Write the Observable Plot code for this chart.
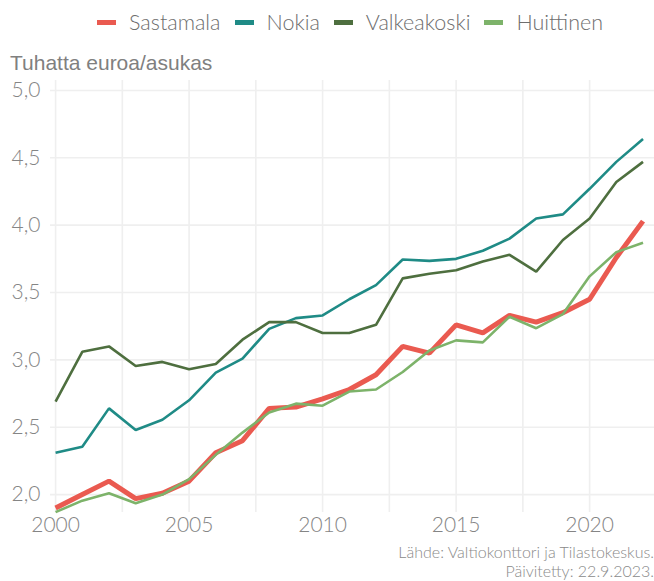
<!DOCTYPE html>
<html>
<head>
<meta charset="utf-8">
<script src="https://cdn.jsdelivr.net/npm/d3@7"></script>
<script src="https://cdn.jsdelivr.net/npm/@observablehq/plot@0.6"></script>
<style>
  html, body { margin: 0; padding: 0; background: #fff; }
  body { width: 654px; height: 581px; position: relative; overflow: hidden; font-family: Lato, "Open Sans", sans-serif; }
  #chart { position: absolute; left: 0; top: 0; }
  #legend { position: absolute; left: 97px; top: 9px; display: flex; align-items: center; font-family: Lato, sans-serif; font-weight: 300; font-size: 21.5px; color: #6e6e6e; white-space: nowrap; }
  .item { display: flex; align-items: center; margin-right: 14px; }
  .sw { width: 19px; height: 5px; margin-right: 13px; }
  #title { position: absolute; left: 10px; top: 51px; font-family: "Liberation Sans", Arial, sans-serif; font-size: 21px; color: #808080; }
  #caption { position: absolute; right: 0px; top: 542px; text-align: right; font-family: Lato, sans-serif; font-weight: 300; font-size: 16px; color: #8a8a8a; }
  #caption div { line-height: 19px; height: 19px; }
</style>
</head>
<body>
<div id="legend"></div>
<div id="title">Tuhatta euroa/asukas</div>
<div id="chart"></div>
<div id="caption"><div>Lähde: Valtiokonttori ja Tilastokeskus.</div><div>Päivitetty: 22.9.2023.</div></div>
<script>
const years = d3.range(2000, 2023);
const seriesNames = ["Sastamala", "Nokia", "Valkeakoski", "Huittinen"];
const seriesColors = ["#ea5a50", "#1f8b86", "#4e6f3f", "#7db36a"];
const seriesWidths = [5, 2.6, 2.6, 2.6];

const sastamala = [1.90, 2.00, 2.10, 1.97, 2.01, 2.10, 2.31, 2.40, 2.64, 2.65, 2.71, 2.78, 2.89, 3.10, 3.05, 3.26, 3.20, 3.33, 3.28, 3.35, 3.45, 3.76, 4.03];
const nokia = [2.31, 2.355, 2.64, 2.48, 2.555, 2.70, 2.905, 3.01, 3.23, 3.31, 3.33, 3.45, 3.555, 3.745, 3.735, 3.75, 3.81, 3.90, 4.05, 4.08, 4.27, 4.47, 4.64];
const valkeakoski = [2.69, 3.06, 3.10, 2.955, 2.985, 2.93, 2.97, 3.15, 3.28, 3.28, 3.20, 3.20, 3.26, 3.605, 3.64, 3.665, 3.73, 3.78, 3.655, 3.89, 4.05, 4.32, 4.47];
const huittinen = [1.87, 1.955, 2.01, 1.935, 2.00, 2.115, 2.295, 2.46, 2.61, 2.675, 2.66, 2.765, 2.78, 2.91, 3.07, 3.145, 3.13, 3.32, 3.235, 3.34, 3.62, 3.80, 3.87];

const xTicks = [2000, 2005, 2010, 2015, 2020];
const xGrid = [2000, 2002.5, 2005, 2007.5, 2010, 2012.5, 2015, 2017.5, 2020];
const yTicks = [2.0, 2.5, 3.0, 3.5, 4.0, 4.5, 5.0];

const allValues = [sastamala, nokia, valkeakoski, huittinen];
const data = [];
seriesNames.forEach((name, i) => {
  years.forEach((y, j) => data.push({ name, year: y, value: allValues[i][j] }));
});

// legend
const legend = document.getElementById("legend");
seriesNames.forEach((name, i) => {
  const item = document.createElement("div");
  item.className = "item";
  const sw = document.createElement("div");
  sw.className = "sw";
  sw.style.background = seriesColors[i];
  const lab = document.createElement("span");
  lab.textContent = name;
  item.appendChild(sw);
  item.appendChild(lab);
  legend.appendChild(item);
});

const lineMarks = seriesNames.map((name, i) =>
  Plot.line(data.filter(d => d.name === name), {
    x: "year", y: "value",
    stroke: seriesColors[i], strokeWidth: seriesWidths[i],
    strokeLinejoin: "miter", strokeLinecap: "butt"
  })
);

const chart = Plot.plot({
  width: 654,
  height: 581,
  marginTop: 80,
  marginBottom: 69,
  marginLeft: 50,
  marginRight: 0,
  style: { fontFamily: "Lato, sans-serif", fontSize: "21px", background: "transparent" },
  x: { domain: [1999.81, 2022.43] },
  y: { domain: [1.867, 5.074] },
  marks: [
    Plot.ruleX(xGrid, { stroke: "#efefef", strokeWidth: 1.6 }),
    Plot.ruleY(yTicks, { stroke: "#efefef", strokeWidth: 1.6 }),
    ...lineMarks,
    Plot.axisX(xTicks, { tickSize: 0, tickPadding: 5, tickFormat: d => String(d), label: null, fill: "#858585", fontWeight: 300 }),
    Plot.axisY(yTicks, { tickSize: 0, tickPadding: 10, tickFormat: d => d.toFixed(1).replace(".", ","), label: null, fill: "#858585", fontWeight: 300 })
  ]
});
document.getElementById("chart").appendChild(chart);
</script>
</body>
</html>
